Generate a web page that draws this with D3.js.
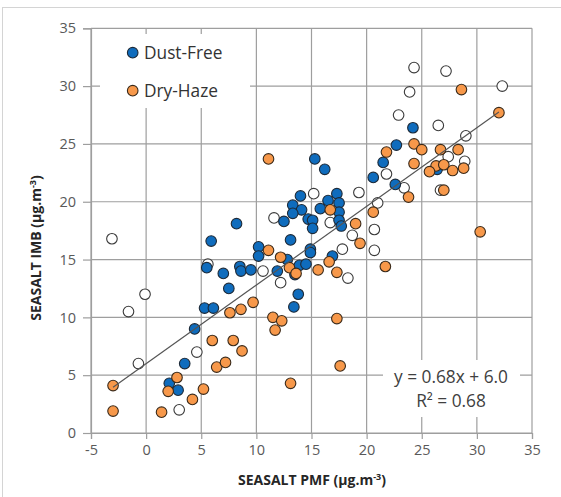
<!DOCTYPE html>
<html>
<head>
<meta charset="utf-8">
<script src="https://cdn.jsdelivr.net/npm/d3@7/dist/d3.min.js"></script>
<style>
  html, body { margin: 0; padding: 0; background: #fff; }
  svg { display: block; }
  text { font-family: "Open Sans", "Noto Sans", sans-serif; }
</style>
</head>
<body>
<svg id="chart" width="561" height="497"></svg>
<script>
// Sea-salt: PMF estimate (x) against IMB estimate (y), µg.m-3
const xTicks = [-5, 0, 5, 10, 15, 20, 25, 30, 35];
const yTicks = [0, 5, 10, 15, 20, 25, 30, 35];

// Unlabelled samples (open markers)
const otherPts = [
  [-3.1, 16.8], [-1.6, 10.5], [-0.1, 12.0], [-0.7, 6.0], [3.0, 2.0], [4.6, 7.0],
  [5.6, 14.6], [10.6, 14.0], [12.2, 13.0], [11.6, 18.6], [15.2, 20.7], [16.7, 18.2],
  [19.3, 20.8], [21.0, 19.9], [20.7, 17.6], [18.7, 17.1], [17.8, 15.9], [20.7, 15.8],
  [18.3, 13.4], [21.8, 22.4], [23.4, 21.2], [26.7, 21.0], [22.9, 27.5], [23.9, 29.5],
  [24.3, 31.6], [27.2, 31.3], [26.5, 26.6], [29.0, 25.7], [27.4, 23.9], [28.9, 23.5],
  [32.3, 30.0]
];

// Dust-Free samples
const dustFreePts = [
  [24.2, 26.4], [22.7, 24.9], [21.5, 23.4], [20.6, 22.1], [22.6, 21.5], [26.4, 22.8],
  [15.3, 23.7], [16.2, 22.8], [14.0, 20.5], [13.3, 19.7], [14.1, 19.3], [13.3, 19.0],
  [12.5, 18.3], [14.7, 18.5], [15.1, 18.4], [15.1, 17.7], [16.5, 20.1], [17.3, 20.7],
  [17.5, 19.9], [17.5, 19.1], [15.8, 19.4], [17.5, 18.4], [17.7, 17.9], [13.1, 16.7],
  [14.9, 15.9], [8.2, 18.1], [5.9, 16.6], [10.2, 16.1], [10.2, 15.3], [12.8, 15.0],
  [13.9, 14.5], [14.5, 14.6], [14.9, 15.6], [16.9, 15.3], [5.5, 14.3], [7.0, 13.8],
  [8.5, 14.4], [8.6, 14.0], [9.5, 14.1], [11.9, 14.0], [7.5, 12.5], [13.8, 12.0],
  [13.4, 10.9], [5.3, 10.8], [6.1, 10.8], [4.4, 9.0], [3.5, 6.0], [2.1, 4.3],
  [2.9, 3.7], [13.5, 13.7]
];

// Dry-Haze samples
const dryHazePts = [
  [-3.0, 4.1], [-3.0, 1.9], [1.4, 1.8], [2.0, 3.6], [2.8, 4.8], [4.2, 2.9],
  [5.2, 3.8], [6.0, 8.0], [6.4, 5.7], [7.2, 6.1], [7.9, 8.0], [8.7, 7.1],
  [7.6, 10.4], [8.6, 10.7], [9.7, 11.3], [11.5, 10.0], [12.3, 9.7], [11.7, 8.9],
  [13.1, 4.3], [17.6, 5.8], [17.3, 9.9], [11.1, 23.7], [11.1, 15.8], [12.2, 15.2],
  [13.0, 14.3], [13.6, 13.8], [15.6, 14.1], [16.6, 14.8], [17.3, 13.9], [21.7, 14.4],
  [16.7, 19.3], [19.0, 18.1], [20.6, 19.1], [19.4, 16.4], [30.3, 17.4], [23.8, 20.4],
  [27.0, 21.0], [21.8, 24.3], [24.3, 25.0], [25.0, 24.5], [26.7, 24.5], [28.3, 24.5],
  [24.3, 23.3], [26.3, 23.1], [27.0, 23.2], [25.7, 22.6], [27.8, 22.7], [28.8, 22.9],
  [28.6, 29.7], [32.0, 27.7]
];

// Linear fit shown on the chart
const fitSlope = 0.68;
const fitIntercept = 6.0;
const fitRange = [-3.0, 32.0];
const fitText = ["y = 0.68x + 6.0", "R² = 0.68"];

const seriesNames = ["Dust-Free", "Dry-Haze"];
const seriesColors = { other: "#ffffff", dust: "#0f6cbd", haze: "#f7984a" };

const svg = d3.select("#chart");

// outer chart frame
svg.append("rect")
  .attr("x", 2.5).attr("y", 7.5).attr("width", 620).attr("height", 600)
  .attr("fill", "none").attr("stroke", "#d4d4d4");

const x = d3.scaleLinear().domain([-5, 35]).range([91, 532]);
const y = d3.scaleLinear().domain([0, 35]).range([433, 28.3]);

const gridColor = "#9e9e9e";

// gridlines
svg.append("g").selectAll("line.v").data(xTicks).join("line")
  .attr("x1", d => x(d)).attr("x2", d => x(d))
  .attr("y1", y(35)).attr("y2", y(0))
  .attr("stroke", gridColor).attr("stroke-width", 1.2);
svg.append("g").selectAll("line.h").data(yTicks).join("line")
  .attr("x1", x(-5)).attr("x2", x(35))
  .attr("y1", d => y(d)).attr("y2", d => y(d))
  .attr("stroke", gridColor).attr("stroke-width", 1.2);

// axes (plain hyphen for negative labels)
const plain = d => String(d);
const xAxis = d3.axisBottom(x).tickValues(xTicks).tickSize(6).tickPadding(6).tickFormat(plain);
const yAxis = d3.axisLeft(y).tickValues(yTicks).tickSize(8).tickPadding(7).tickFormat(plain);

const gx = svg.append("g").attr("transform", `translate(0,${y(0)})`).call(xAxis);
const gy = svg.append("g").attr("transform", `translate(${x(-5)},0)`).call(yAxis);
[gx, gy].forEach(g => {
  g.select(".domain").attr("stroke", gridColor).attr("stroke-width", 1.2);
  g.selectAll(".tick line").attr("stroke", gridColor).attr("stroke-width", 1.2);
  g.selectAll(".tick text")
    .attr("fill", "#595959")
    .style("font-family", '"Open Sans", sans-serif')
    .style("font-size", "14.5px");
});

// legend box (covers the grid behind it)
svg.append("rect").attr("x", 100).attr("y", 34).attr("width", 150).attr("height", 74)
  .attr("fill", "#fff");
// fit label box
svg.append("rect").attr("x", 383).attr("y", 360).attr("width", 137).attr("height", 57)
  .attr("fill", "#fff");

const r = 5.3;
const dot = (g, pts, fill, stroke) => g.selectAll("circle").data(pts).join("circle")
  .attr("cx", d => x(d[0])).attr("cy", d => y(d[1])).attr("r", r)
  .attr("fill", fill).attr("stroke", stroke).attr("stroke-width", 1.1);

dot(svg.append("g"), otherPts, seriesColors.other, "#3a3a3a");
dot(svg.append("g"), dustFreePts, seriesColors.dust, "#1d2a38");
dot(svg.append("g"), dryHazePts, seriesColors.haze, "#3a2a1a");

// trend line
svg.append("line")
  .attr("x1", x(fitRange[0])).attr("y1", y(fitSlope * fitRange[0] + fitIntercept))
  .attr("x2", x(fitRange[1])).attr("y2", y(fitSlope * fitRange[1] + fitIntercept))
  .attr("stroke", "#555").attr("stroke-width", 1.2);

// fit equation
const eq = svg.append("text").attr("x", 451).attr("text-anchor", "middle")
  .attr("fill", "#404040").style("font-size", "17.3px");
eq.append("tspan").attr("x", 451).attr("y", 383).text(fitText[0]);
eq.append("tspan").attr("x", 451).attr("y", 407).text(fitText[1]);

// legend
const legend = svg.append("g");
[[seriesNames[0], seriesColors.dust, "#1d2a38"], [seriesNames[1], seriesColors.haze, "#3a2a1a"]]
  .forEach(([name, fill, stroke], i) => {
    const cy = 52.7 + i * 38;
    legend.append("circle").attr("cx", 132.7).attr("cy", cy).attr("r", r)
      .attr("fill", fill).attr("stroke", stroke).attr("stroke-width", 1.1);
    legend.append("text").attr("x", 144).attr("y", cy).attr("dy", "0.35em")
      .attr("fill", "#333").style("font-size", "17.3px").text(name);
  });

// axis titles
const xt = svg.append("text").attr("x", 312).attr("y", 485).attr("text-anchor", "middle")
  .attr("fill", "#262626").style("font-size", "14px").style("font-weight", "bold");
xt.append("tspan").text("SEASALT PMF (µg.m");
xt.append("tspan").attr("dy", -5).style("font-size", "9px").text("-3");
xt.append("tspan").attr("dy", 5).text(")");

const yt = svg.append("text")
  .attr("transform", "translate(41,248) rotate(-90)")
  .attr("text-anchor", "middle")
  .attr("fill", "#262626").style("font-size", "14px").style("font-weight", "bold");
yt.append("tspan").text("SEASALT IMB (µg.m");
yt.append("tspan").attr("dy", -5).style("font-size", "9px").text("-3");
yt.append("tspan").attr("dy", 5).text(")");
</script>
</body>
</html>
